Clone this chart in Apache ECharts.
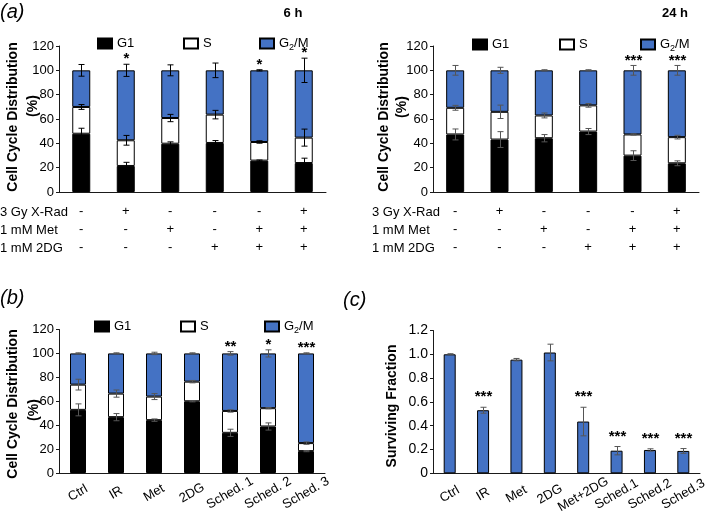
<!DOCTYPE html>
<html><head><meta charset="utf-8">
<script src="https://cdn.jsdelivr.net/npm/echarts@6/dist/echarts.min.js"></script>
<style>html,body{margin:0;padding:0;background:#fff}#c{width:709px;height:513px}</style>
</head><body><div id="c"></div>
<script>
// ---------- data ----------
const phaseNames = ['G1', 'S', 'G2/M'];
// Panel (a) treatment rows
const rowLabels = ['3 Gy X-Rad', '1 mM Met', '1 mM 2DG'];
const xrad = ['-', '+', '-', '-', '-', '+'];
const met  = ['-', '-', '+', '-', '+', '+'];
const dg   = ['-', '-', '-', '+', '+', '+'];
// Panel (a) 6 h
const a6G1 = [47.9, 21.4, 39.7, 40.3, 25.8, 23.8];
const a6S  = [22.0, 21.1, 21.1, 23.3, 15.3, 20.9];
const a6ErrG1 = [4.5, 3, 1.5, 2, 0.5, 4];
const a6ErrS  = [2, 4, 3, 3.5, 1, 7];
const a6ErrG2 = [4.8, 5, 4.5, 6, 0.5, 10];
const a6Sig = ['', '*', '', '', '*', '*'];
// Panel (a) 24 h
const a24G1 = [47.3, 43.1, 44.2, 49.7, 29.9, 23.6];
const a24S  = [21.9, 22.8, 18.7, 21.5, 17.4, 21.5];
const a24ErrG1 = [4.5, 6.5, 3, 2.5, 4, 2];
const a24ErrS  = [2, 5.5, 2, 1.5, 0.5, 1.5];
const a24ErrG2 = [4, 2.5, 0.5, 0.5, 4, 4];
const a24Sig = ['', '', '', '', '***', '***'];
// Panel (b)
const bCats = ['Ctrl', 'IR', 'Met', '2DG', 'Sched. 1', 'Sched. 2', 'Sched. 3'];
const bG1 = [52.8, 46.7, 44.2, 60.0, 33.6, 38.9, 18.3];
const bS  = [21.1, 19.7, 19.7, 16.4, 18.3, 15.3, 6.7];
const bErrG1 = [5, 3, 1, 0.5, 3, 3, 0.5];
const bErrS  = [4.5, 3, 2.5, 1, 1, 0.5, 1];
const bErrG2 = [0.5, 0.5, 1, 0.5, 1.5, 3, 0.5];
const bSig = ['', '', '', '', '**', '*', '***'];
// Panel (c)
const cCats = ['Ctrl', 'IR', 'Met', '2DG', 'Met+2DG', 'Sched.1', 'Sched.2', 'Sched.3'];
const cVals = [1.0, 0.53, 0.955, 1.015, 0.435, 0.19, 0.196, 0.188];
const cErr  = [0.005, 0.025, 0.01, 0.07, 0.12, 0.035, 0.01, 0.02];
const cSig  = ['', '***', '', '', '***', '***', '***', '***'];
// Axis ticks
const pctMax = 120, pctStep = 20;
const sfMax = 1.2, sfStep = 0.2;

// ---------- helpers ----------
const FONT = '"Liberation Sans", Arial, Helvetica, sans-serif';
const BLUE = '#4472C4';
const AXC = '#1a1a1a';

function errSeries(gi, tops, errs, color, sig, starOff) {
  return {
    type: 'custom', xAxisIndex: gi, yAxisIndex: gi, z: 5, clip: false, silent: true,
    data: tops.map((t, i) => [i, t, errs[i]]),
    encode: { x: 0, y: 1 },
    renderItem: function (params, api) {
      const i = api.value(0), t = api.value(1), e = api.value(2);
      const c = api.coord([i, t]), hi = api.coord([i, t + e]), lo = api.coord([i, t - e]);
      const x = Math.round(c[0]) + 0.5, cw = 3;
      const st = { stroke: color, lineWidth: 1 };
      const ch = [
        { type: 'line', shape: { x1: x, y1: hi[1], x2: x, y2: lo[1] }, style: st },
        { type: 'line', shape: { x1: x - cw, y1: hi[1], x2: x + cw, y2: hi[1] }, style: st },
        { type: 'line', shape: { x1: x - cw, y1: lo[1], x2: x + cw, y2: lo[1] }, style: st }
      ];
      if (sig && sig[params.dataIndex]) {
        ch.push({ type: 'text', x: x, y: hi[1] - starOff,
          style: { text: sig[params.dataIndex], align: 'center', verticalAlign: 'middle',
                   fill: '#000', font: 'bold 15px ' + FONT } });
      }
      return { type: 'group', children: ch };
    }
  };
}

function stackSeries(gi, g1, s, eG1, eS, eG2, sig, barW, errColor, starOff) {
  const g2 = g1.map((v, i) => +(100 - v - s[i]).toFixed(2));
  const topS = g1.map((v, i) => v + s[i]);
  const topG = g1.map((v, i) => v + s[i] + g2[i]);
  const st = 'st' + gi;
  const base = { type: 'bar', stack: st, xAxisIndex: gi, yAxisIndex: gi, barWidth: barW, silent: true };
  return [
    Object.assign({}, base, { name: phaseNames[0], data: g1, itemStyle: { color: '#000', borderColor: '#000', borderWidth: 1 } }),
    Object.assign({}, base, { name: phaseNames[1], data: s, itemStyle: { color: '#fff', borderColor: '#000', borderWidth: 1 } }),
    Object.assign({}, base, { name: phaseNames[2], data: g2, itemStyle: { color: BLUE, borderColor: '#000', borderWidth: 1 } }),
    errSeries(gi, g1, eG1, errColor, null, 0),
    errSeries(gi, topS, eS, errColor, null, 0),
    errSeries(gi, topG, eG2, errColor, sig, starOff)
  ];
}

function yAxisPct(gi) {
  return { type: 'value', gridIndex: gi, min: 0, max: pctMax, interval: pctStep,
    splitLine: { show: false },
    axisLine: { show: true, lineStyle: { color: AXC } },
    axisTick: { show: true, length: 3, lineStyle: { color: AXC } },
    axisLabel: { color: '#000', fontSize: 13, margin: 5, fontFamily: FONT } };
}

function xAxisA(gi) {
  return { type: 'category', gridIndex: gi, data: xrad.map((_, i) => 'c' + i),
    axisLine: { lineStyle: { color: AXC } },
    axisTick: { length: 3, lineStyle: { color: AXC } },
    axisLabel: { interval: 0, color: '#000', fontSize: 13, lineHeight: 18, margin: 10, fontFamily: FONT,
      formatter: (v, i) => [xrad[i], met[i], dg[i]].join('\n') } };
}

function xAxisRot(gi, cats, fs, margin) {
  return { type: 'category', gridIndex: gi, data: cats,
    axisLine: { lineStyle: { color: AXC } },
    axisTick: { length: 3, lineStyle: { color: AXC } },
    axisLabel: { interval: 0, rotate: 30, align: 'center', verticalAlign: 'middle',
      color: '#000', fontSize: fs, margin: margin, fontFamily: FONT } };
}

function legendItem(name, left, top) {
  return { data: [name], left: left, top: top, orient: 'horizontal', selectedMode: false,
    icon: 'rect', itemWidth: 14, itemHeight: 10, itemGap: 0,
    formatter: n => n === 'G2/M' ? '{n|G}{s|2}{n|/M}' : n,
    textStyle: { color: '#000', fontSize: 13, fontFamily: FONT, padding: [0, 0, 0, 0],
      rich: { n: { fontSize: 13, fontFamily: FONT, color: '#000' },
              s: { fontSize: 9, fontFamily: FONT, color: '#000', padding: [8, 0, 0, 0] } } } };
}

function txt(text, x, y, font, opts) {
  return Object.assign({ type: 'text', x: x, y: y, silent: true,
    style: { text: text, font: font, fill: '#000', align: 'left', verticalAlign: 'middle' } }, opts || {});
}
function vtxt(text, x, y, font) {
  return { type: 'text', x: x, y: y, rotation: Math.PI / 2, silent: true,
    style: { text: text, font: font, fill: '#000', align: 'center', verticalAlign: 'middle' } };
}

const titleFont = 'bold 14px ' + FONT;
const rowFont = '13px ' + FONT;
const panelFont = 'italic 20px ' + FONT;

const graphics = [
  txt('(a)', 0, 12, panelFont),
  txt('(b)', 0, 298, panelFont),
  txt('(c)', 343, 300, panelFont),
  Object.assign(txt('6 h', 293, 13, 'bold 13px ' + FONT), {}),
  Object.assign(txt('24 h', 675, 13, 'bold 13px ' + FONT), {}),
  vtxt('Cell Cycle Distribution', 13, 117, titleFont),
  vtxt('(%)', 33, 106, titleFont),
  vtxt('Cell Cycle Distribution', 384, 117, titleFont),
  vtxt('(%)', 402, 107, titleFont),
  vtxt('Cell Cycle Distribution', 13, 404, titleFont),
  vtxt('(%)', 34, 410, titleFont),
  vtxt('Surviving Fraction', 392, 406, titleFont)
];
graphics[3].style.align = 'center';
graphics[4].style.align = 'center';
const rowY = [212, 230, 248];
rowLabels.forEach((r, k) => {
  graphics.push(txt(r, 0, rowY[k], rowFont));
  graphics.push(txt(r, 372, rowY[k], rowFont));
});

const option = {
  animation: false,
  textStyle: { fontFamily: FONT },
  grid: [
    { left: 59, top: 46, width: 267, height: 146, containLabel: false, outerBoundsMode: 'none' },
    { left: 433, top: 46, width: 266, height: 146, containLabel: false, outerBoundsMode: 'none' },
    { left: 59, top: 329.5, width: 266, height: 143.5, containLabel: false, outerBoundsMode: 'none' },
    { left: 433, top: 330.5, width: 267, height: 142.8, containLabel: false, outerBoundsMode: 'none' }
  ],
  xAxis: [ xAxisA(0), xAxisA(1), xAxisRot(2, bCats, 13, 20), xAxisRot(3, cCats, 13, 21) ],
  yAxis: [ yAxisPct(0), yAxisPct(1), yAxisPct(2),
    { type: 'value', gridIndex: 3, min: 0, max: sfMax, interval: sfStep,
      splitLine: { show: false },
      axisLine: { show: true, lineStyle: { color: AXC } },
      axisTick: { show: true, length: 3, lineStyle: { color: AXC } },
      axisLabel: { color: '#000', fontSize: 14, margin: 5, fontFamily: FONT,
        formatter: v => v === 0 ? '0' : v.toFixed(1) } } ],
  legend: [
    legendItem('G1', 92, 32), legendItem('S', 178, 32), legendItem('G2/M', 254, 32),
    legendItem('G1', 467, 33), legendItem('S', 554, 33), legendItem('G2/M', 635, 33),
    legendItem('G1', 89, 315), legendItem('S', 175, 315), legendItem('G2/M', 259, 315)
  ],
  series: [].concat(
    stackSeries(0, a6G1, a6S, a6ErrG1, a6ErrS, a6ErrG2, a6Sig, 18, '#000', 5),
    stackSeries(1, a24G1, a24S, a24ErrG1, a24ErrS, a24ErrG2, a24Sig, 18, '#555', 5),
    stackSeries(2, bG1, bS, bErrG1, bErrS, bErrG2, bSig, 16, '#555', 5),
    [ { type: 'bar', name: 'Surviving Fraction', xAxisIndex: 3, yAxisIndex: 3, data: cVals, barWidth: 12, silent: true,
        itemStyle: { color: BLUE, borderColor: '#000', borderWidth: 1 } },
      errSeries(3, cVals, cErr, '#555', cSig, 10) ]
  ),
  graphic: graphics
};

const chart = echarts.init(document.getElementById('c'), null, { renderer: 'canvas' });
chart.setOption(option);
</script></body></html>
